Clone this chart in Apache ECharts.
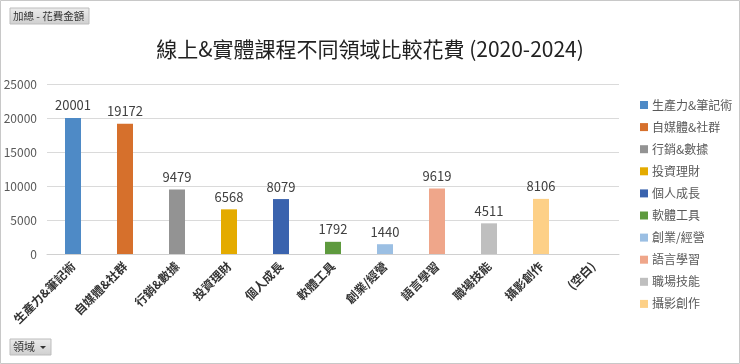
<!DOCTYPE html>
<html><head><meta charset="utf-8">
<script src="https://cdn.jsdelivr.net/npm/echarts@6/dist/echarts.min.js"></script>
<style>html,body{margin:0;padding:0;background:#fff}#c{width:740px;height:364px}</style>
</head><body><div id="c"></div>
<script>
const categories = ['生產力&筆記術','自媒體&社群','行銷&數據','投資理財','個人成長','軟體工具','創業/經營','語言學習','職場技能','攝影創作','(空白)'];
const seriesNames = ['生產力&筆記術','自媒體&社群','行銷&數據','投資理財','個人成長','軟體工具','創業/經營','語言學習','職場技能','攝影創作'];
const values = [20001, 19172, 9479, 6568, 8079, 1792, 1440, 9619, 4511, 8106];
const colors = ['#4E8AC6','#D6702C','#939393','#E4AB00','#3A63AE','#5E9A3E','#9BBFE3','#EFA68A','#BFBFBF','#FDD087'];
const yTicks = [0, 5000, 10000, 15000, 20000, 25000];

const font = '"Noto Sans CJK TC", "Noto Sans", sans-serif';
const series = seriesNames.map((name, i) => ({
  name,
  type: 'bar',
  stack: 'all',
  barWidth: 16,
  itemStyle: { color: colors[i] },
  label: { show: true, position: 'top', distance: 6, color: '#404040', fontSize: 13, fontFamily: font },
  data: categories.map((c, j) => j === i ? values[i] : '-')
}));

const chart = echarts.init(document.getElementById('c'), null, { renderer: 'canvas' });
chart.setOption({
  animation: false,
  backgroundColor: '#fff',
  title: {
    text: '線上&實體課程不同領域比較花費 (2020-2024)',
    left: 'center', top: 34,
    textStyle: { fontSize: 21, fontWeight: 'normal', color: '#222', fontFamily: font }
  },
  legend: {
    orient: 'vertical', left: 635, top: 94, itemGap: 10.1,
    itemWidth: 8, itemHeight: 8, icon: 'rect',
    textStyle: { fontSize: 12, color: '#595959', fontFamily: font, padding: [0,0,0,-1] },
    data: seriesNames
  },
  grid: { left: 47, right: 121, top: 84, bottom: 110 },
  xAxis: {
    type: 'category', data: categories,
    axisLine: { lineStyle: { color: '#d0d0d0' } },
    axisTick: { show: false },
    axisLabel: { rotate: 45, interval: 0, fontSize: 12, fontWeight: 'bold', color: '#333', fontFamily: font, margin: 10 }
  },
  yAxis: {
    type: 'value', min: yTicks[0], max: yTicks[yTicks.length - 1], interval: yTicks[1] - yTicks[0],
    axisLine: { show: false }, axisTick: { show: false },
    splitLine: { lineStyle: { color: '#dadada' } },
    axisLabel: { fontSize: 12, color: '#595959', fontFamily: font, margin: 10, formatter: v => String(v) }
  },
  graphic: [
    { type: 'rect', shape: { x: 0.5, y: 0.5, width: 739, height: 363 }, style: { fill: 'none', stroke: '#c8c8c8', lineWidth: 1 }, z: 100 },
    { type: 'rect', shape: { x: 10, y: 8, width: 79, height: 16 },
      style: { fill: new echarts.graphic.LinearGradient(0,0,0,1,[{offset:0,color:'#ececec'},{offset:1,color:'#cfcfcf'}]), stroke: '#bdbdbd', lineWidth: 1 } },
    { type: 'text', x: 13, y: 16, style: { text: '加總 - 花費金額', fontSize: 10.5, fill: '#333', fontFamily: font, verticalAlign: 'middle' } },
    { type: 'rect', shape: { x: 10, y: 339, width: 41, height: 16 },
      style: { fill: new echarts.graphic.LinearGradient(0,0,0,1,[{offset:0,color:'#ececec'},{offset:1,color:'#cfcfcf'}]), stroke: '#bdbdbd', lineWidth: 1 } },
    { type: 'text', x: 13, y: 347, style: { text: '領域', fontSize: 11, fill: '#333', fontFamily: font, verticalAlign: 'middle' } },
    { type: 'polygon', shape: { points: [[40,346],[46,346],[43,349]] }, style: { fill: '#333' } }
  ],
  series
});
</script>
</body></html>
